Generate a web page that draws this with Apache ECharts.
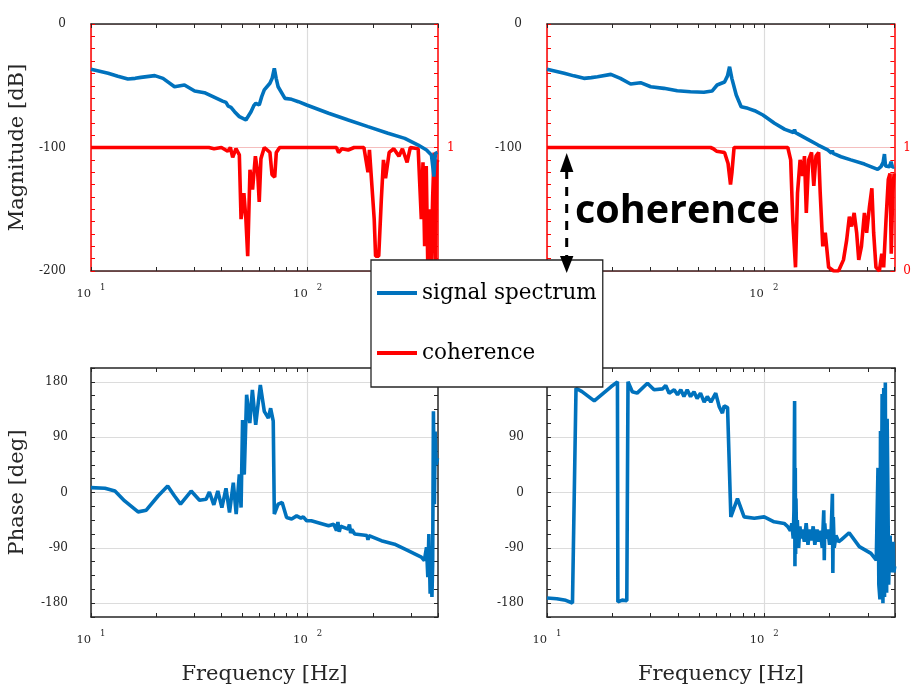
<!DOCTYPE html>
<html><head><meta charset="utf-8">
<script src="https://cdn.jsdelivr.net/npm/echarts@6/dist/echarts.min.js"></script>
<style>html,body{margin:0;padding:0;background:#fff}#c{width:914px;height:692px}</style>
</head><body><div id="c"></div>
<script>
// ---------- data ----------
const freqTicks = [10,20,30,40,50,60,70,80,90,100,200,300,400];
const freqLabels = [10,100];
const magLabels = [0,-100,-200];
const phaseLabels = [-180,-90,0,90,180];
const cohLabels = [0,1];

// [frequency Hz, magnitude dB]
const magLeft = [[10,-36.7],[12,-39.9],[13.3,-42.3],[14.8,-44.5],[16,-44],[17,-43.2],[19.7,-41.8],[21.5,-44],[24.3,-50.8],[27,-49.4],[30.1,-54.3],[33.4,-55.6],[37.2,-59.4],[40.5,-62.4],[42,-63.5],[43,-66.5],[44.3,-67.5],[46,-71],[48.4,-75],[51.9,-77.7],[54.8,-71],[56.5,-66],[57.7,-64.2],[59.8,-65.6],[61.4,-58.8],[63.1,-53.4],[67,-48],[68.6,-44],[70.2,-35.9],[71.6,-44],[73.1,-50.8],[78.6,-60.2],[84.4,-61],[90.7,-62.9],[99,-65.6],[125,-72.3],[154,-77.7],[190,-83.1],[235,-88.5],[281,-92.6],[324,-98],[354,-102],[373,-106],[383,-123.6],[389,-104.7],[398,-104]];
// [frequency Hz, coherence]
const cohLeft = [[10,1],[35,1],[37,0.99],[40,1],[42.8,0.97],[44,1],[45.1,0.92],[46.7,0.99],[48.4,0.94],[49.3,0.42],[50.8,0.63],[51.9,0.42],[52.9,0.12],[54.2,0.82],[55.7,0.66],[57.4,0.93],[58.8,0.8],[59.8,0.56],[60.9,0.91],[63.1,1],[67,0.96],[68.5,0.78],[70.5,0.76],[71.7,0.96],[74.3,1],[136,1],[139,0.96],[144,0.99],[154,0.98],[164,1],[182,1],[190,0.8],[193,0.98],[196,0.99],[203,0.42],[206,0.12],[213,0.12],[219,0.58],[224,0.9],[229,0.75],[238,0.96],[250,0.99],[264,0.93],[274,0.99],[288,0.88],[298,1],[324,0.99],[335,0.42],[341,0.88],[347,0.2],[353,0.85],[359,0.02],[365,0.5],[371,0],[378,0.6],[384,0.96],[388,0],[395,0.88],[400,0.9]];
const magRight = [[10,-36.7],[12,-39.9],[13.3,-42],[14.8,-44],[16,-43.4],[17.1,-42.7],[19.7,-40.8],[21.8,-44],[24.3,-48.6],[27,-47.5],[30.1,-50.8],[34.6,-52.1],[39.9,-54],[45.9,-54.8],[52.9,-55.3],[57.7,-54.3],[60.9,-49.4],[65.9,-47],[68,-42],[69.5,-34.6],[71.2,-44],[74.6,-57.5],[78.6,-67],[84.4,-68.3],[90.7,-70.2],[99,-73.7],[112,-80.4],[125,-85.3],[137,-87.8],[138.5,-85.5],[140,-88],[143,-89],[159.5,-93.4],[178,-98],[197,-102],[205,-104.5],[207,-102.5],[209,-104.8],[227,-107.5],[252,-110],[291,-113.4],[335,-117.7],[340,-119],[347,-115.5],[355,-112],[360,-105.3],[364,-115],[367,-115.5],[380,-115.5],[386,-111.5],[392,-116],[399,-115.5]];
const cohRight = [[10,1],[56.8,1],[58.5,0.99],[60.5,0.97],[61.4,0.98],[65.9,0.96],[68.4,0.87],[70.2,0.7],[71.3,0.8],[72.9,1],[129,1],[133,0.9],[136,0.41],[140,0.03],[143,0.63],[147,0.9],[151,0.77],[154,0.93],[157,0.47],[161,0.9],[166,0.96],[170,0.69],[174,0.93],[179,0.96],[182,0.63],[187,0.2],[192,0.31],[199,0.03],[210,0],[221,0],[233,0.09],[241,0.25],[248,0.44],[254,0.36],[261,0.47],[268,0.31],[274,0.09],[282,0.2],[291,0.47],[298,0.31],[307,0.52],[315,0.67],[321,0.31],[329,0.03],[341,0],[350,0.14],[357,0.03],[366,0.41],[375,0.74],[382,0.79],[387,0.14],[393,0.63],[399,0.79]];
// [frequency Hz, phase deg]
const phaseLeft = [[10,7.9],[11.6,6.8],[12.9,2.4],[14.3,-13.7],[16.5,-31.5],[18,-28.8],[20.4,-5.7],[22.6,10.5],[24.3,-5.7],[25.9,-19],[29,2.4],[31.7,-12.6],[34,-11],[35.2,0.8],[36.9,-20],[38.5,2.4],[40.2,-24.5],[42,6.8],[43.6,-32.5],[45.4,16],[46.8,-35],[48.4,29.4],[49.3,-24.5],[50.1,118],[51,29],[52.3,159],[54.1,113],[55.6,167],[57.6,110],[60.5,175],[63.1,132],[65.9,121],[67.5,137],[69.4,116],[70.2,-35],[73.1,-19],[76.3,-16.3],[80,-40.6],[84.4,-43],[89,-38],[93.1,-41.7],[95.5,-39.6],[99,-46],[104,-46],[125,-54],[132,-51.5],[136,-62],[138,-48],[140,-64],[142,-55],[154,-59.5],[156,-52],[158,-66],[160,-60],[165,-67.6],[188,-70],[190,-77],[192,-70],[219,-78.4],[252,-84],[291,-94.6],[335,-105],[346,-110.7],[354,-89],[359,-137.6],[363,-67.6],[368,-164.6],[371,-105],[375,-170],[378,-116],[381,132],[385,-19],[388,99],[392,45],[398,56]];
const phaseRight = [[10,-171.6],[11.1,-172.7],[12.2,-175.4],[13.1,-179.7],[13.6,169.6],[14.5,164],[16.5,149],[19.7,172],[21.1,180],[21.2,-178],[22.2,-175],[23.3,-176],[23.6,180],[24.7,164],[26,161.6],[29,177.7],[31.1,167],[34,168.5],[35.2,174],[36.5,161.6],[38.5,167],[39.9,159],[41.3,167],[42.7,156],[44.2,167],[45.8,156],[47.5,164],[49.1,153],[50.9,161.6],[52.9,147],[54.7,156],[56.8,147],[59.8,161.6],[62,140],[64.2,129],[65.4,141],[67.8,138],[70.2,-39.6],[75.3,-10],[80.8,-39.6],[90,-42],[100,-39.6],[111,-47.7],[123.6,-50.3],[128,-55],[132,-62],[134,-50],[136,-75],[137,-30],[138,149],[138.5,-120],[139,40],[139.5,-100],[140,-10],[141,-80],[142,-45],[144,-90],[146,-55],[148,-75],[150,-60],[153,-80],[156,-50],[159,-85],[162,-60],[165,-78],[168,-55],[171,-85],[175,-60],[178,-80],[181,-62],[185,-90],[188,-29],[189,-110],[190,-50],[192,-75],[196,-60],[200,-85],[203,-70],[206,-2],[207,-131],[208,-40],[210,-90],[214,-70],[220,-80],[226,-77],[246,-65.5],[274,-88],[310,-99],[328,-110],[330,-110],[334,40],[337,-150],[341,-174],[343,100],[345,-160],[349,160],[352,-180],[355,170],[358,-170],[361,179],[363,-140],[366,-163],[368,120],[371,-1],[374,-150],[377,-98],[380,-70],[383,-130],[388,-110],[392,-80],[395,-130],[399,-120]];

// ---------- styling ----------
const SERIF = '"DejaVu Serif", serif';
const DARK = '#262626';
const RED = '#ff0000';
const BLUE = '#0072BD';
const grids = [
  {left:91, top:24, width:347, height:247},
  {left:547, top:24, width:348, height:247},
  {left:91, top:368, width:347, height:249},
  {left:547, top:368, width:348, height:249}
];
const xRich = {
  b:{fontFamily:SERIF, fontSize:11.5, color:DARK},
  s:{fontFamily:SERIF, fontSize:8.5, color:DARK, padding:[0,0,14,9]}
};
function xAxisPair(gi, lineColor, withName){
  const gridCol = ['#dcdcdc','transparent','transparent','transparent','transparent','transparent','transparent','transparent','transparent'];
  return [{
    type:'log', logBase:10, gridIndex:gi, min:10, max:400, position:'bottom',
    axisLine:{show:true, onZero:false, lineStyle:{color:lineColor, width:1.5}},
    axisTick:{show:true, inside:true, length:4, customValues:freqTicks, lineStyle:{color:DARK, width:1}},
    axisLabel:{show:true, customValues:freqLabels, margin:12,
      formatter:v=>'{b|10}{s|'+Math.round(Math.log10(v))+'}', rich:xRich},
    splitLine:{show:true, showMinLine:true, lineStyle:{color:gridCol, width:1.2}},
    name: withName ? 'Frequency [Hz]' : '', nameLocation:'middle', nameGap:47,
    nameTextStyle:{fontFamily:SERIF, fontSize:21, color:DARK}
  },{
    type:'log', logBase:10, gridIndex:gi, min:10, max:400, position:'top',
    axisLine:{show:true, onZero:false, lineStyle:{color:DARK, width:1.5}},
    axisTick:{show:true, inside:true, length:4, customValues:freqTicks, lineStyle:{color:DARK, width:1}},
    axisLabel:{show:false}, splitLine:{show:false}
  }];
}
function magAxes(gi, withName){
  const pink = 'rgba(225,70,70,0.35)';
  const cohGrid = [pink].concat(Array(9).fill('transparent'));
  return [{
    type:'value', gridIndex:gi, min:-200, max:0, interval:10, position:'left',
    axisLine:{show:true, onZero:false, lineStyle:{color:RED, width:1.5}},
    axisTick:{show:true, inside:true, length:4, lineStyle:{color:RED}},
    axisLabel:{margin:25, fontFamily:SERIF, fontSize:12, color:DARK, padding:[0,0,16,0],
      formatter:v=> magLabels.indexOf(v) >= 0 ? String(v) : ''},
    splitLine:{show:false},
    name: withName ? 'Magnitude [dB]' : '', nameLocation:'middle', nameGap:63, nameRotate:90,
    nameTextStyle:{fontFamily:SERIF, fontSize:21, color:DARK}
  },{
    type:'value', gridIndex:gi, min:0, max:2, interval:0.1, position:'right',
    axisLine:{show:true, onZero:false, lineStyle:{color:RED, width:1.5}},
    axisTick:{show:true, inside:true, length:4, lineStyle:{color:RED}},
    axisLabel:{margin:9, fontFamily:SERIF, fontSize:12, color:RED, padding:[0,0,16,0],
      formatter:v=>{ const r = Math.round(v*10)/10; return cohLabels.indexOf(r) >= 0 ? String(r) : ''; }},
    splitLine:{show:true, showMinLine:true, showMaxLine:true, lineStyle:{color:cohGrid, width:1.2}}
  }];
}
function phaseAxes(gi, withName){
  const g = '#dcdcdc', t = 'transparent';
  return [{
    type:'value', gridIndex:gi, min:-202.5, max:202.5, interval:22.5, position:'left',
    axisLine:{show:true, onZero:false, lineStyle:{color:DARK, width:1.5}},
    axisTick:{show:true, inside:true, length:4, lineStyle:{color:DARK}},
    axisLabel:{margin:23, fontFamily:SERIF, fontSize:12, color:DARK, padding:[0,0,16,0],
      formatter:v=> phaseLabels.indexOf(v) >= 0 ? String(v) : ''},
    splitLine:{show:true, showMinLine:true, showMaxLine:true, lineStyle:{color:[t,g,t,t], width:1.2}},
    name: withName ? 'Phase [deg]' : '', nameLocation:'middle', nameGap:63, nameRotate:90,
    nameTextStyle:{fontFamily:SERIF, fontSize:21, color:DARK}
  },{
    type:'value', gridIndex:gi, min:-202.5, max:202.5, interval:22.5, position:'right',
    axisLine:{show:true, onZero:false, lineStyle:{color:DARK, width:1.5}},
    axisTick:{show:true, inside:true, length:4, lineStyle:{color:DARK}},
    axisLabel:{show:false}, splitLine:{show:false}
  }];
}
function lineSeries(name, data, xi, yi, color, z){
  return {type:'line', name, data, xAxisIndex:xi, yAxisIndex:yi, showSymbol:false, symbol:'none',
    lineStyle:{color, width:3.6}, itemStyle:{color}, z, animation:false, clip:true};
}

const chart = echarts.init(document.getElementById('c'), null, {renderer:'canvas'});
chart.setOption({
  animation:false,
  backgroundColor:'#fff',
  grid: grids.map(g=>Object.assign({containLabel:false}, g)),
  xAxis: [].concat(xAxisPair(0,'#3d1c1c',false), xAxisPair(1,'#3d1c1c',false), xAxisPair(2,DARK,true), xAxisPair(3,DARK,true)),
  yAxis: [].concat(magAxes(0,true), magAxes(1,false), phaseAxes(2,true), phaseAxes(3,false)),
  series: [
    lineSeries('coherence', cohLeft, 0, 1, RED, 2),
    lineSeries('signal spectrum', magLeft, 0, 0, BLUE, 3),
    lineSeries('coherence', cohRight, 2, 3, RED, 2),
    lineSeries('signal spectrum', magRight, 2, 2, BLUE, 3),
    lineSeries('signal spectrum', phaseLeft, 4, 4, BLUE, 3),
    lineSeries('signal spectrum', phaseRight, 6, 6, BLUE, 3)
  ],
  legend: {
    data:[{name:'signal spectrum', itemStyle:{color:BLUE}}, {name:'coherence', itemStyle:{color:RED}}],
    orient:'vertical', left:371, top:260, padding:[22,6,23,6],
    itemWidth:40, itemHeight:4, itemGap:38, icon:'rect',
    textStyle:{fontFamily:SERIF, fontSize:21.5, color:'#000'},
    backgroundColor:'#fff', borderColor:DARK, borderWidth:1.3, borderRadius:0,
    selectedMode:false, z:10
  },
  graphic: [
    {type:'line', z:100, shape:{x1:566.7, y1:170, x2:566.7, y2:258}, style:{stroke:'#000', lineWidth:3, lineDash:[9,8]}},
    {type:'polygon', z:100, shape:{points:[[560,172],[573.4,172],[566.7,153]]}, style:{fill:'#000'}},
    {type:'polygon', z:100, shape:{points:[[560,256],[573.4,256],[566.7,273]]}, style:{fill:'#000'}},
    {type:'text', z:100, left:575, top:192, style:{text:'coherence', fontFamily:'"Open Sans", sans-serif', fontWeight:'bold', fontSize:39.5, fill:'#000'}}
  ]
});
</script>
</body></html>
